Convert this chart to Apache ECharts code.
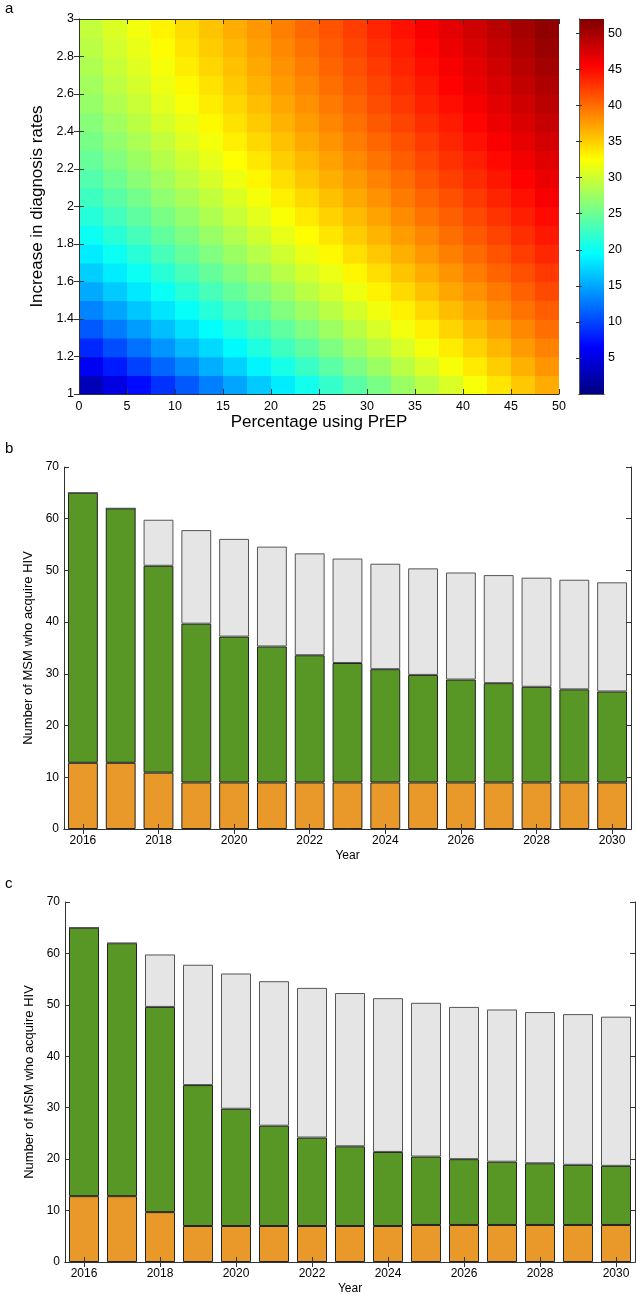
<!DOCTYPE html>
<html><head><meta charset="utf-8">
<script src="https://cdn.jsdelivr.net/npm/echarts@6/dist/echarts.min.js"></script>
<style>html,body{margin:0;padding:0;background:#fff}#chart{width:636px;height:1296px}</style>
</head><body><div id="chart"></div>
<script>
// ---------- Panel a: heat map (cell centres and values) ----------
const prepCentres = [1.25,3.75,6.25,8.75,11.25,13.75,16.25,18.75,21.25,23.75,26.25,28.75,31.25,33.75,36.25,38.75,41.25,43.75,46.25,48.75];
const diagCentres = [1.05,1.15,1.25,1.35,1.45,1.55,1.65,1.75,1.85,1.95,2.05,2.15,2.25,2.35,2.45,2.55,2.65,2.75,2.85,2.95];
const heatValues = [
 [2.9,5.0,7.0,9.0,11.0,13.0,14.9,16.8,18.6,20.4,22.2,24.0,25.7,27.4,29.0,30.6,32.2,33.8,35.3,36.8],
 [5.9,7.8,9.8,11.7,13.5,15.4,17.2,19.0,20.7,22.4,24.1,25.8,27.4,29.0,30.5,32.1,33.6,35.0,36.5,37.9],
 [8.5,10.4,12.3,14.1,15.9,17.6,19.3,21.0,22.7,24.3,25.9,27.5,29.0,30.5,32.0,33.4,34.8,36.2,37.6,38.9],
 [11.0,12.8,14.5,16.2,17.9,19.6,21.3,22.9,24.4,26.0,27.5,29.0,30.5,31.9,33.3,34.7,36.0,37.3,38.6,39.9],
 [13.2,14.9,16.6,18.2,19.8,21.4,23.0,24.5,26.1,27.5,29.0,30.4,31.8,33.2,34.5,35.9,37.1,38.4,39.6,40.8],
 [15.2,16.8,18.4,20.0,21.6,23.1,24.6,26.1,27.5,29.0,30.4,31.7,33.1,34.4,35.7,37.0,38.2,39.4,40.6,41.8],
 [17.0,18.6,20.1,21.6,23.1,24.6,26.1,27.5,28.9,30.3,31.6,32.9,34.2,35.5,36.8,38.0,39.2,40.4,41.5,42.6],
 [18.6,20.1,21.6,23.1,24.6,26.0,27.4,28.8,30.1,31.5,32.8,34.1,35.3,36.6,37.8,39.0,40.1,41.3,42.4,43.5],
 [20.1,21.6,23.0,24.5,25.9,27.3,28.6,30.0,31.3,32.6,33.8,35.1,36.3,37.5,38.7,39.9,41.0,42.1,43.2,44.3],
 [21.4,22.9,24.3,25.7,27.0,28.4,29.7,31.0,32.3,33.6,34.8,36.0,37.2,38.4,39.6,40.7,41.8,42.9,44.0,45.0],
 [22.6,24.0,25.4,26.8,28.1,29.4,30.7,32.0,33.3,34.5,35.7,36.9,38.1,39.3,40.4,41.5,42.6,43.7,44.7,45.8],
 [23.7,25.1,26.5,27.8,29.1,30.4,31.7,32.9,34.2,35.4,36.6,37.7,38.9,40.0,41.2,42.3,43.3,44.4,45.4,46.5],
 [24.7,26.1,27.4,28.7,30.0,31.3,32.5,33.7,35.0,36.2,37.3,38.5,39.6,40.8,41.9,43.0,44.0,45.1,46.1,47.1],
 [25.6,26.9,28.2,29.5,30.8,32.0,33.3,34.5,35.7,36.9,38.0,39.2,40.3,41.4,42.5,43.6,44.7,45.7,46.8,47.8],
 [26.4,27.7,29.0,30.3,31.5,32.8,34.0,35.2,36.4,37.5,38.7,39.8,41.0,42.1,43.2,44.2,45.3,46.4,47.4,48.4],
 [27.2,28.5,29.7,31.0,32.2,33.4,34.6,35.8,37.0,38.2,39.3,40.4,41.6,42.7,43.8,44.8,45.9,47.0,48.0,49.0],
 [27.8,29.1,30.3,31.6,32.8,34.0,35.2,36.4,37.6,38.7,39.9,41.0,42.1,43.2,44.3,45.4,46.5,47.5,48.6,49.6],
 [28.4,29.7,30.9,32.1,33.4,34.6,35.7,36.9,38.1,39.2,40.4,41.5,42.6,43.7,44.8,45.9,47.0,48.0,49.1,50.1],
 [29.0,30.2,31.4,32.7,33.9,35.1,36.2,37.4,38.6,39.7,40.9,42.0,43.1,44.2,45.3,46.4,47.5,48.5,49.6,50.7],
 [29.5,30.7,31.9,33.1,34.3,35.5,36.7,37.8,39.0,40.2,41.3,42.4,43.6,44.7,45.8,46.9,48.0,49.0,50.1,51.2]
];
const colorbarRange = [0, 52];

// ---------- Panels b and c: stacked bars ----------
const years = ['2016','2017','2018','2019','2020','2021','2022','2023','2024','2025','2026','2027','2028','2029','2030'];
const bOrange = [12.8,12.8,10.9,9.0,9.0,9.0,9.0,9.0,9.0,9.0,9.0,9.0,9.0,9.0,9.0];
const bGreen  = [52.2,49.2,40.0,30.7,28.2,26.3,24.6,23.1,21.9,20.8,19.9,19.2,18.5,18.0,17.6];
const bGray   = [0,0,8.9,18.1,18.9,19.3,19.7,20.2,20.4,20.6,20.7,20.9,21.1,21.2,21.1];
const cOrange = [12.8,12.8,9.7,7.0,7.0,7.0,7.0,7.0,7.0,7.2,7.2,7.2,7.2,7.2,7.2];
const cGreen  = [52.2,49.2,39.9,27.4,22.8,19.5,17.2,15.5,14.4,13.3,12.8,12.3,12.0,11.7,11.5];
const cGray   = [0,0,10.2,23.4,26.3,28.1,29.1,29.8,29.9,29.9,29.6,29.6,29.4,29.3,29.0];

const jet = ['#000080','#0000ff','#0080ff','#00ffff','#80ff80','#ffff00','#ff8000','#ff0000','#800000'];
const FONT = 'Liberation Sans';
const AX = '#333';

const heatData = [];
diagCentres.forEach((y, j) => prepCentres.forEach((x, i) => heatData.push([x, y, heatValues[j][i]])));
const cellW = prepCentres[1] - prepCentres[0];
const cellH = diagCentres[1] - diagCentres[0];

const chart = echarts.init(document.getElementById('chart'), null, {renderer: 'canvas'});

function frameAxis(extra) {
  return Object.assign({
    axisLine: {show: true, lineStyle: {color: AX, width: 1}},
    axisTick: {show: true, inside: true, length: 5, lineStyle: {color: AX}},
    axisLabel: {show: false},
    splitLine: {show: false},
    z: 10
  }, extra);
}
const lbl = (size, extra) => Object.assign({show: true, color: '#000', fontFamily: FONT, fontSize: size}, extra);

const barAxisX = (grid, pos, withLabels) => frameAxis({
  type: 'category', data: years, gridIndex: grid, position: pos, boundaryGap: true,
  axisTick: {show: true, inside: true, length: 5, interval: 1, alignWithLabel: true, lineStyle: {color: AX}},
  axisLabel: withLabels ? lbl(12, {interval: 1, margin: 6}) : {show: false},
  name: withLabels ? 'Year' : '', nameLocation: 'middle', nameGap: 21,
  nameTextStyle: {fontFamily: FONT, fontSize: 12, color: '#000'}
});
const barAxisY = (grid, pos, withLabels) => frameAxis({
  type: 'value', gridIndex: grid, position: pos, min: 0, max: 70, interval: 10,
  axisLabel: withLabels ? lbl(12, {margin: 5}) : {show: false},
  name: withLabels ? 'Number of MSM who acquire HIV' : '', nameLocation: 'middle', nameGap: 22,
  nameTextStyle: {fontFamily: FONT, fontSize: 13, color: '#000'}
});

const barStyle = (color, border) => ({color: color, borderColor: border, borderWidth: 1});

const option = {
  animation: false,
  backgroundColor: '#fff',
  title: [
    {text: 'a', left: 0, top: -4, textStyle: {fontFamily: FONT, fontSize: 15, fontWeight: 'normal', color: '#000'}},
    {text: 'b', left: 0, top: 436, textStyle: {fontFamily: FONT, fontSize: 15, fontWeight: 'normal', color: '#000'}},
    {text: 'c', left: 0, top: 871, textStyle: {fontFamily: FONT, fontSize: 15, fontWeight: 'normal', color: '#000'}}
  ],
  grid: [
    {left: 79, top: 19, width: 480, height: 375},
    {left: 579, top: 19, width: 25, height: 375},
    {left: 64, top: 467, width: 567, height: 362},
    {left: 65, top: 902, width: 570, height: 362}
  ],
  visualMap: [{
    show: false, type: 'continuous', min: colorbarRange[0], max: colorbarRange[1],
    dimension: 2, seriesIndex: [0], inRange: {color: jet}
  }],
  xAxis: [
    frameAxis({type: 'value', gridIndex: 0, position: 'bottom', min: 0, max: 50, interval: 5,
      axisLabel: lbl(12.5, {margin: 6}),
      name: 'Percentage using PrEP', nameLocation: 'middle', nameGap: 20,
      nameTextStyle: {fontFamily: FONT, fontSize: 17, color: '#000'}}),
    frameAxis({type: 'value', gridIndex: 0, position: 'top', min: 0, max: 50, interval: 5}),
    frameAxis({type: 'value', gridIndex: 1, position: 'bottom', min: 0, max: 1, axisTick: {show: false}, axisLine: {show: true, lineStyle: {color: '#555'}}}),
    frameAxis({type: 'value', gridIndex: 1, position: 'top', min: 0, max: 1, axisTick: {show: false}, axisLine: {show: true, lineStyle: {color: '#555'}}}),
    barAxisX(2, 'bottom', true),
    barAxisX(2, 'top', false),
    barAxisX(3, 'bottom', true),
    barAxisX(3, 'top', false)
  ],
  yAxis: [
    frameAxis({type: 'value', gridIndex: 0, position: 'left', min: 1, max: 3, interval: 0.2,
      axisLabel: lbl(12.5, {margin: 5}),
      name: 'Increase in diagnosis rates', nameLocation: 'middle', nameGap: 27,
      nameTextStyle: {fontFamily: FONT, fontSize: 17, color: '#000'}}),
    frameAxis({type: 'value', gridIndex: 0, position: 'right', min: 1, max: 3, interval: 0.2}),
    frameAxis({type: 'value', gridIndex: 1, position: 'left', min: colorbarRange[0], max: colorbarRange[1], interval: 5,
      axisLine: {show: true, lineStyle: {color: '#555'}}, axisTick: {show: true, inside: true, length: 3, lineStyle: {color: '#333'}}}),
    frameAxis({type: 'value', gridIndex: 1, position: 'right', min: colorbarRange[0], max: colorbarRange[1], interval: 5,
      axisLine: {show: true, lineStyle: {color: '#555'}}, axisTick: {show: true, inside: true, length: 3, lineStyle: {color: '#333'}},
      axisLabel: lbl(12.5, {margin: 4, showMinLabel: false, showMaxLabel: false})}),
    barAxisY(2, 'left', true),
    barAxisY(2, 'right', false),
    barAxisY(3, 'left', true),
    barAxisY(3, 'right', false)
  ],
  series: [
    {
      type: 'custom', xAxisIndex: 0, yAxisIndex: 0, data: heatData, clip: true, z: 2,
      encode: {x: 0, y: 1},
      renderItem: function (params, api) {
        const x = api.value(0), y = api.value(1);
        const p0 = api.coord([x - cellW / 2, y + cellH / 2]);
        const p1 = api.coord([x + cellW / 2, y - cellH / 2]);
        return {type: 'rect', shape: {x: p0[0], y: p0[1], width: p1[0] - p0[0] + 0.8, height: p1[1] - p0[1] + 0.8},
          style: {fill: api.visual('color')}};
      }
    },
    {
      type: 'custom', xAxisIndex: 2, yAxisIndex: 2, data: [[0, colorbarRange[0], colorbarRange[1]]], z: 2,
      encode: {x: 0, y: [1, 2]},
      renderItem: function (params, api) {
        const p0 = api.coord([0, api.value(2)]);
        const p1 = api.coord([1, api.value(1)]);
        const stops = jet.map((c, i) => ({offset: i / (jet.length - 1), color: c}));
        return {type: 'rect', shape: {x: p0[0], y: p0[1], width: p1[0] - p0[0], height: p1[1] - p0[1]},
          style: {fill: new echarts.graphic.LinearGradient(0, 1, 0, 0, stops)}};
      }
    },
    {type: 'bar', xAxisIndex: 4, yAxisIndex: 4, stack: 'b', data: bOrange, barWidth: '79%', itemStyle: barStyle('#e8992a', '#222')},
    {type: 'bar', xAxisIndex: 4, yAxisIndex: 4, stack: 'b', data: bGreen, barWidth: '79%', itemStyle: barStyle('#589626', '#222')},
    {type: 'bar', xAxisIndex: 4, yAxisIndex: 4, stack: 'b', data: bGray, barWidth: '79%', itemStyle: barStyle('#e5e5e5', '#555')},
    {type: 'bar', xAxisIndex: 6, yAxisIndex: 6, stack: 'c', data: cOrange, barWidth: '79%', itemStyle: barStyle('#e8992a', '#222')},
    {type: 'bar', xAxisIndex: 6, yAxisIndex: 6, stack: 'c', data: cGreen, barWidth: '79%', itemStyle: barStyle('#589626', '#222')},
    {type: 'bar', xAxisIndex: 6, yAxisIndex: 6, stack: 'c', data: cGray, barWidth: '79%', itemStyle: barStyle('#e5e5e5', '#555')}
  ]
};
chart.setOption(option);
</script>
</body></html>
